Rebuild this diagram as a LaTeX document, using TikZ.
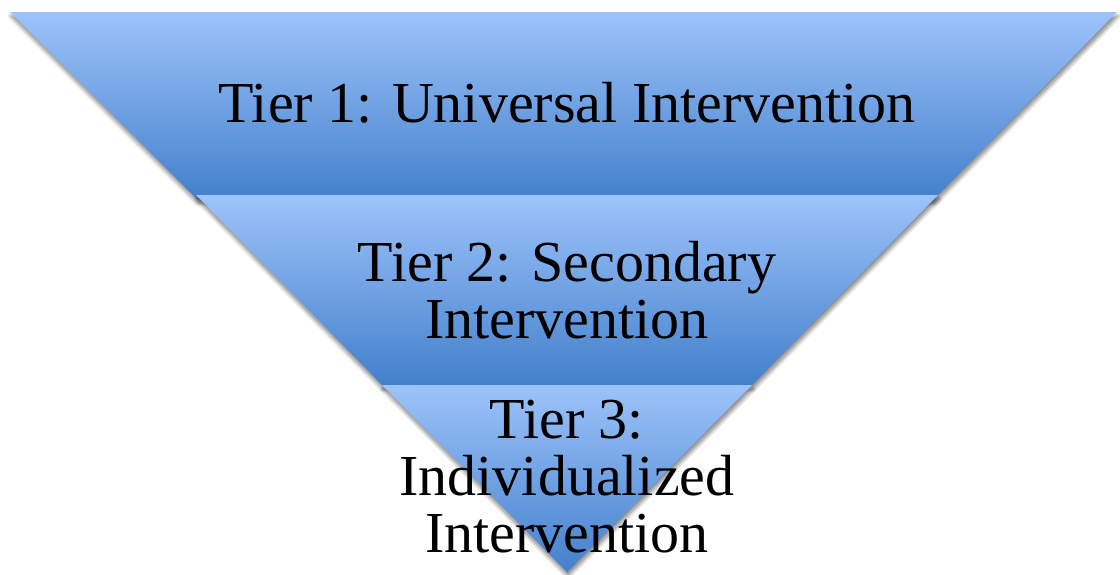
\documentclass[tikz,border=0pt]{standalone}
\usepackage{fontspec}
\setmainfont{Liberation Serif}
\usetikzlibrary{shadows.blur}
\definecolor{tierLight}{RGB}{157,195,250}
\definecolor{tierDark}{RGB}{67,128,204}

\begin{document}
\begin{tikzpicture}[
    x=1pt, y=-1pt,
    tierband/.style={
        top color=tierLight,
        bottom color=tierDark,
        blur shadow={shadow xshift=1pt, shadow yshift=-4pt, shadow blur radius=4pt, shadow blur steps=8, shadow opacity=50}
    },
    tierlabel/.style={
        align=center,
        font=\fontsize{58}{57}\selectfont,
        text=black,
        inner sep=0pt
    }
]
\useasboundingbox (0,0) rectangle (1120,574);

% Bands, top to bottom
\path[tierband] (10,12) -- (1117,12) -- (934,199) -- (197,199) -- cycle;
\path[tierband] (196,195) -- (938,195) -- (752,385) -- (382,385) -- cycle;
\path[tierband] (382,385) -- (752,385) -- (567,572) -- cycle;

% Labels
\node[tierlabel] (tierone) at (567,103) {Tier 1: Universal Intervention};
\node[tierlabel] (tiertwo) at (567,290) {Tier 2: Secondary\\Intervention};
\node[tierlabel] (tierthree) at (567,477) {Tier 3:\\Individualized\\Intervention};

\end{tikzpicture}
\end{document}
